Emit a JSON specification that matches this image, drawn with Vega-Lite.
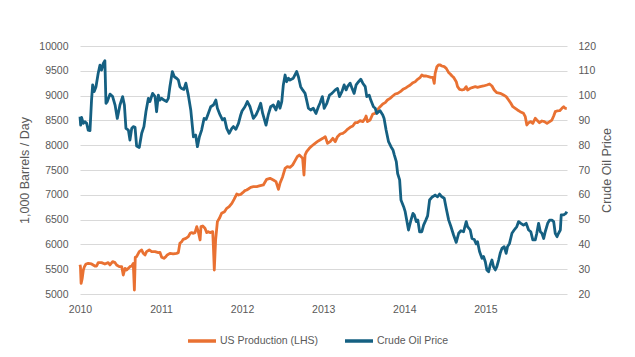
{
"$schema": "https://vega.github.io/schema/vega-lite/v6.json",
"width": 487, "height": 248,
"autosize": {"type": "none"},
"padding": {"left": 80, "top": 46, "right": 68, "bottom": 63},
"background": "white",
"config": {"font": "Liberation Sans", "view": {"stroke": null},
  "axis": {"labelColor": "#595959", "titleColor": "#595959", "labelFontSize": 10.5, "titleFontSize": 12.5, "titleFontWeight": "normal", "ticks": false, "domain": false, "labelFont": "Liberation Sans", "titleFont": "Liberation Sans"},
  "legend": {"labelFont": "Liberation Sans"}},
"datasets": {
"prod": [
{"d":"2010-01-01","v":5590},{"d":"2010-01-03","v":5550},{"d":"2010-01-06","v":5215},{"d":"2010-01-11","v":5316},{"d":"2010-01-16","v":5484},{"d":"2010-01-21","v":5551},{"d":"2010-01-28","v":5605},{"d":"2010-02-07","v":5618},{"d":"2010-02-22","v":5605},{"d":"2010-03-09","v":5565},{"d":"2010-03-17","v":5565},{"d":"2010-03-24","v":5632},{"d":"2010-04-08","v":5632},{"d":"2010-04-23","v":5605},{"d":"2010-05-08","v":5632},{"d":"2010-05-16","v":5585},{"d":"2010-05-28","v":5652},{"d":"2010-06-08","v":5632},{"d":"2010-06-15","v":5585},{"d":"2010-06-27","v":5551},{"d":"2010-07-08","v":5551},{"d":"2010-07-15","v":5383},{"d":"2010-07-23","v":5518},{"d":"2010-07-30","v":5484},{"d":"2010-08-14","v":5551},{"d":"2010-08-22","v":5565},{"d":"2010-08-29","v":5618},{"d":"2010-09-03","v":5081},{"d":"2010-09-07","v":5740},{"d":"2010-09-13","v":5753},{"d":"2010-09-25","v":5854},{"d":"2010-10-06","v":5887},{"d":"2010-10-13","v":5820},{"d":"2010-10-21","v":5787},{"d":"2010-10-28","v":5854},{"d":"2010-11-09","v":5887},{"d":"2010-11-20","v":5854},{"d":"2010-12-05","v":5854},{"d":"2010-12-20","v":5834},{"d":"2010-12-27","v":5840},
{"d":"2011-01-04","v":5740},{"d":"2011-01-14","v":5719},{"d":"2011-01-23","v":5753},{"d":"2011-01-29","v":5787},{"d":"2011-02-10","v":5820},{"d":"2011-02-25","v":5807},{"d":"2011-03-12","v":5820},{"d":"2011-03-20","v":5834},{"d":"2011-03-27","v":6022},{"d":"2011-04-04","v":6055},{"d":"2011-04-11","v":6102},{"d":"2011-04-23","v":6122},{"d":"2011-05-04","v":6156},{"d":"2011-05-12","v":6223},{"d":"2011-05-19","v":6237},{"d":"2011-05-27","v":6223},{"d":"2011-06-03","v":6237},{"d":"2011-06-11","v":6358},{"d":"2011-06-18","v":6257},{"d":"2011-06-26","v":6089},{"d":"2011-06-30","v":6358},{"d":"2011-07-08","v":6371},{"d":"2011-07-18","v":6324},{"d":"2011-07-26","v":6237},{"d":"2011-08-02","v":6257},{"d":"2011-08-10","v":6237},{"d":"2011-08-22","v":6257},{"d":"2011-08-25","v":5955},{"d":"2011-08-29","v":5484},{"d":"2011-09-04","v":6089},{"d":"2011-09-12","v":6459},{"d":"2011-09-21","v":6526},{"d":"2011-10-01","v":6627},{"d":"2011-10-14","v":6660},{"d":"2011-10-24","v":6727},{"d":"2011-11-04","v":6761},{"d":"2011-11-16","v":6828},{"d":"2011-11-26","v":6909},{"d":"2011-12-08","v":7016},{"d":"2011-12-16","v":6996},{"d":"2011-12-26","v":7010},
{"d":"2012-01-04","v":7043},{"d":"2012-01-14","v":7084},{"d":"2012-01-22","v":7097},{"d":"2012-01-29","v":7117},{"d":"2012-02-09","v":7151},{"d":"2012-02-21","v":7164},{"d":"2012-03-07","v":7164},{"d":"2012-03-19","v":7178},{"d":"2012-04-06","v":7198},{"d":"2012-04-21","v":7312},{"d":"2012-05-06","v":7332},{"d":"2012-05-21","v":7298},{"d":"2012-06-02","v":7265},{"d":"2012-06-13","v":7110},{"d":"2012-06-20","v":7231},{"d":"2012-07-02","v":7366},{"d":"2012-07-13","v":7534},{"d":"2012-07-23","v":7567},{"d":"2012-08-04","v":7554},{"d":"2012-08-16","v":7601},{"d":"2012-08-27","v":7688},{"d":"2012-09-06","v":7769},{"d":"2012-09-15","v":7803},{"d":"2012-09-23","v":7769},{"d":"2012-09-30","v":7735},{"d":"2012-10-06","v":7399},{"d":"2012-10-11","v":7803},{"d":"2012-10-18","v":7870},{"d":"2012-10-30","v":7937},{"d":"2012-11-10","v":7984},{"d":"2012-11-25","v":8038},{"d":"2012-12-05","v":8071},{"d":"2012-12-17","v":8105},{"d":"2012-12-30","v":8139},
{"d":"2013-01-10","v":8172},{"d":"2013-01-20","v":8038},{"d":"2013-02-01","v":8071},{"d":"2013-02-13","v":8139},{"d":"2013-02-24","v":8071},{"d":"2013-03-06","v":8172},{"d":"2013-03-18","v":8226},{"d":"2013-03-30","v":8239},{"d":"2013-04-10","v":8273},{"d":"2013-04-20","v":8320},{"d":"2013-05-02","v":8360},{"d":"2013-05-14","v":8387},{"d":"2013-05-25","v":8454},{"d":"2013-06-04","v":8454},{"d":"2013-06-16","v":8495},{"d":"2013-06-28","v":8475},{"d":"2013-07-09","v":8542},{"d":"2013-07-13","v":8589},{"d":"2013-07-19","v":8475},{"d":"2013-07-31","v":8508},{"d":"2013-08-12","v":8629},{"d":"2013-08-23","v":8643},{"d":"2013-09-02","v":8710},{"d":"2013-09-14","v":8777},{"d":"2013-09-26","v":8831},{"d":"2013-10-07","v":8858},{"d":"2013-10-17","v":8911},{"d":"2013-10-29","v":8945},{"d":"2013-11-10","v":8992},{"d":"2013-11-21","v":9032},{"d":"2013-12-02","v":9046},{"d":"2013-12-14","v":9079},{"d":"2013-12-26","v":9126},
{"d":"2014-01-05","v":9147},{"d":"2014-01-16","v":9180},{"d":"2014-01-28","v":9214},{"d":"2014-02-09","v":9261},{"d":"2014-02-19","v":9281},{"d":"2014-03-02","v":9328},{"d":"2014-03-14","v":9368},{"d":"2014-03-21","v":9415},{"d":"2014-03-29","v":9395},{"d":"2014-04-10","v":9395},{"d":"2014-04-20","v":9382},{"d":"2014-05-01","v":9368},{"d":"2014-05-10","v":9368},{"d":"2014-05-16","v":9247},{"d":"2014-05-20","v":9449},{"d":"2014-05-28","v":9583},{"d":"2014-06-04","v":9617},{"d":"2014-06-12","v":9617},{"d":"2014-06-19","v":9597},{"d":"2014-06-30","v":9583},{"d":"2014-07-09","v":9550},{"d":"2014-07-20","v":9462},{"d":"2014-07-27","v":9436},{"d":"2014-08-04","v":9395},{"d":"2014-08-11","v":9368},{"d":"2014-08-23","v":9281},{"d":"2014-08-29","v":9180},{"d":"2014-09-07","v":9126},{"d":"2014-09-18","v":9113},{"d":"2014-09-28","v":9126},{"d":"2014-10-07","v":9180},{"d":"2014-10-13","v":9113},{"d":"2014-10-25","v":9147},{"d":"2014-11-06","v":9167},{"d":"2014-11-17","v":9180},{"d":"2014-11-27","v":9167},{"d":"2014-12-09","v":9180},{"d":"2014-12-24","v":9194},
{"d":"2015-01-08","v":9214},{"d":"2015-01-20","v":9234},{"d":"2015-01-31","v":9194},{"d":"2015-02-10","v":9113},{"d":"2015-02-22","v":9059},{"d":"2015-03-09","v":9046},{"d":"2015-03-24","v":9012},{"d":"2015-04-05","v":8979},{"d":"2015-04-16","v":8911},{"d":"2015-04-26","v":8844},{"d":"2015-05-05","v":8777},{"d":"2015-05-16","v":8743},{"d":"2015-05-26","v":8710},{"d":"2015-06-07","v":8676},{"d":"2015-06-22","v":8643},{"d":"2015-06-30","v":8575},{"d":"2015-07-07","v":8407},{"d":"2015-07-15","v":8454},{"d":"2015-07-25","v":8475},{"d":"2015-08-03","v":8441},{"d":"2015-08-14","v":8542},{"d":"2015-08-21","v":8508},{"d":"2015-09-02","v":8454},{"d":"2015-09-13","v":8488},{"d":"2015-09-24","v":8475},{"d":"2015-10-06","v":8441},{"d":"2015-10-18","v":8475},{"d":"2015-10-28","v":8508},{"d":"2015-11-05","v":8589},{"d":"2015-11-12","v":8676},{"d":"2015-11-20","v":8690},{"d":"2015-12-02","v":8696},{"d":"2015-12-12","v":8743},{"d":"2015-12-20","v":8777},{"d":"2015-12-27","v":8743},{"d":"2016-01-03","v":8743}
],
"price": [
{"d":"2010-01-01","v":91.5},{"d":"2010-01-04","v":88.1},{"d":"2010-01-08","v":91.2},{"d":"2010-01-16","v":88.8},{"d":"2010-01-23","v":89.5},{"d":"2010-01-31","v":88.8},{"d":"2010-02-07","v":86.1},{"d":"2010-02-15","v":85.9},{"d":"2010-02-22","v":98.2},{"d":"2010-02-27","v":104.3},{"d":"2010-03-06","v":101.6},{"d":"2010-03-14","v":103.6},{"d":"2010-03-24","v":109.0},{"d":"2010-04-01","v":112.3},{"d":"2010-04-08","v":110.3},{"d":"2010-04-16","v":113.0},{"d":"2010-04-23","v":114.1},{"d":"2010-04-28","v":96.9},{"d":"2010-05-04","v":97.6},{"d":"2010-05-16","v":100.6},{"d":"2010-05-28","v":99.6},{"d":"2010-06-08","v":96.2},{"d":"2010-06-18","v":90.8},{"d":"2010-06-30","v":96.2},{"d":"2010-07-12","v":99.6},{"d":"2010-07-20","v":96.2},{"d":"2010-07-27","v":86.8},{"d":"2010-08-07","v":86.1},{"d":"2010-08-14","v":82.1},{"d":"2010-08-22","v":86.8},{"d":"2010-08-29","v":87.5},{"d":"2010-09-06","v":87.2},{"d":"2010-09-13","v":79.7},{"d":"2010-09-25","v":79.1},{"d":"2010-10-06","v":84.8},{"d":"2010-10-16","v":87.5},{"d":"2010-10-25","v":93.5},{"d":"2010-11-05","v":98.9},{"d":"2010-11-12","v":97.6},{"d":"2010-11-24","v":100.9},{"d":"2010-12-05","v":99.6},{"d":"2010-12-12","v":93.5},{"d":"2010-12-20","v":100.2},{"d":"2010-12-27","v":98.2},
{"d":"2011-01-04","v":98.9},{"d":"2011-01-14","v":98.2},{"d":"2011-01-26","v":97.6},{"d":"2011-02-03","v":98.9},{"d":"2011-02-10","v":103.6},{"d":"2011-02-21","v":109.7},{"d":"2011-03-02","v":107.6},{"d":"2011-03-12","v":107.0},{"d":"2011-03-20","v":106.3},{"d":"2011-03-27","v":103.6},{"d":"2011-04-04","v":102.9},{"d":"2011-04-14","v":102.5},{"d":"2011-04-23","v":105.0},{"d":"2011-05-04","v":100.2},{"d":"2011-05-15","v":94.2},{"d":"2011-05-27","v":83.4},{"d":"2011-06-06","v":84.1},{"d":"2011-06-14","v":79.4},{"d":"2011-06-23","v":83.4},{"d":"2011-07-03","v":86.1},{"d":"2011-07-14","v":90.8},{"d":"2011-07-23","v":90.4},{"d":"2011-08-02","v":92.8},{"d":"2011-08-13","v":95.5},{"d":"2011-08-25","v":96.2},{"d":"2011-09-05","v":98.2},{"d":"2011-09-12","v":94.9},{"d":"2011-09-24","v":92.2},{"d":"2011-10-05","v":90.2},{"d":"2011-10-14","v":90.8},{"d":"2011-10-24","v":86.8},{"d":"2011-11-04","v":84.8},{"d":"2011-11-16","v":86.8},{"d":"2011-11-23","v":87.5},{"d":"2011-12-04","v":86.4},{"d":"2011-12-16","v":88.8},{"d":"2011-12-26","v":92.2},
{"d":"2012-01-01","v":93.8},{"d":"2012-01-14","v":95.5},{"d":"2012-01-25","v":97.6},{"d":"2012-02-06","v":95.5},{"d":"2012-02-21","v":90.8},{"d":"2012-03-04","v":92.2},{"d":"2012-03-14","v":94.2},{"d":"2012-03-25","v":96.9},{"d":"2012-04-03","v":92.8},{"d":"2012-04-18","v":88.1},{"d":"2012-04-28","v":92.2},{"d":"2012-05-09","v":95.5},{"d":"2012-05-21","v":96.2},{"d":"2012-06-02","v":94.2},{"d":"2012-06-13","v":97.6},{"d":"2012-06-20","v":94.9},{"d":"2012-06-28","v":97.6},{"d":"2012-07-05","v":104.3},{"d":"2012-07-13","v":108.3},{"d":"2012-07-20","v":105.6},{"d":"2012-07-28","v":107.0},{"d":"2012-08-04","v":106.3},{"d":"2012-08-19","v":107.0},{"d":"2012-09-03","v":109.7},{"d":"2012-09-11","v":107.6},{"d":"2012-09-21","v":103.6},{"d":"2012-09-30","v":102.3},{"d":"2012-10-11","v":100.9},{"d":"2012-10-18","v":98.2},{"d":"2012-10-26","v":94.9},{"d":"2012-11-05","v":94.2},{"d":"2012-11-17","v":94.9},{"d":"2012-11-29","v":92.8},{"d":"2012-12-10","v":95.5},{"d":"2012-12-17","v":96.9},{"d":"2012-12-28","v":99.6},
{"d":"2013-01-05","v":94.9},{"d":"2013-01-17","v":96.9},{"d":"2013-01-29","v":100.2},{"d":"2013-02-09","v":100.9},{"d":"2013-02-24","v":102.3},{"d":"2013-03-06","v":102.9},{"d":"2013-03-15","v":99.6},{"d":"2013-03-26","v":101.6},{"d":"2013-04-05","v":104.3},{"d":"2013-04-14","v":102.3},{"d":"2013-04-20","v":103.6},{"d":"2013-05-02","v":105.0},{"d":"2013-05-11","v":102.9},{"d":"2013-05-20","v":100.9},{"d":"2013-05-29","v":104.3},{"d":"2013-06-09","v":105.6},{"d":"2013-06-19","v":106.6},{"d":"2013-06-28","v":105.0},{"d":"2013-07-09","v":103.6},{"d":"2013-07-16","v":99.6},{"d":"2013-07-27","v":100.2},{"d":"2013-08-03","v":98.2},{"d":"2013-08-15","v":95.5},{"d":"2013-08-23","v":94.9},{"d":"2013-08-30","v":92.8},{"d":"2013-09-07","v":93.5},{"d":"2013-09-14","v":93.9},{"d":"2013-09-26","v":92.2},{"d":"2013-10-02","v":90.8},{"d":"2013-10-11","v":86.1},{"d":"2013-10-22","v":81.4},{"d":"2013-11-02","v":79.4},{"d":"2013-11-11","v":78.1},{"d":"2013-11-17","v":76.1},{"d":"2013-11-26","v":73.4},{"d":"2013-12-02","v":68.6},{"d":"2013-12-11","v":66.0},{"d":"2013-12-17","v":57.9},{"d":"2013-12-29","v":55.2},
{"d":"2014-01-05","v":53.2},{"d":"2014-01-13","v":49.2},{"d":"2014-01-20","v":45.8},{"d":"2014-01-31","v":49.8},{"d":"2014-02-09","v":52.5},{"d":"2014-02-15","v":51.9},{"d":"2014-02-24","v":49.2},{"d":"2014-03-03","v":49.8},{"d":"2014-03-11","v":45.1},{"d":"2014-03-21","v":45.1},{"d":"2014-03-29","v":47.8},{"d":"2014-04-08","v":49.8},{"d":"2014-04-16","v":51.5},{"d":"2014-04-25","v":57.9},{"d":"2014-05-05","v":59.0},{"d":"2014-05-20","v":59.9},{"d":"2014-05-31","v":59.2},{"d":"2014-06-09","v":60.3},{"d":"2014-06-19","v":59.2},{"d":"2014-06-30","v":58.6},{"d":"2014-07-09","v":54.5},{"d":"2014-07-20","v":49.8},{"d":"2014-07-30","v":47.2},{"d":"2014-08-11","v":43.8},{"d":"2014-08-23","v":40.8},{"d":"2014-09-03","v":44.5},{"d":"2014-09-13","v":45.5},{"d":"2014-09-25","v":45.1},{"d":"2014-10-07","v":49.2},{"d":"2014-10-13","v":47.2},{"d":"2014-10-25","v":45.8},{"d":"2014-11-02","v":42.4},{"d":"2014-11-12","v":42.0},{"d":"2014-11-21","v":40.2},{"d":"2014-11-27","v":41.1},{"d":"2014-12-06","v":37.1},{"d":"2014-12-17","v":34.4},{"d":"2014-12-24","v":35.1},
{"d":"2015-01-01","v":33.0},{"d":"2015-01-08","v":29.7},{"d":"2015-01-16","v":29.0},{"d":"2015-01-23","v":31.7},{"d":"2015-01-31","v":33.7},{"d":"2015-02-07","v":31.0},{"d":"2015-02-15","v":29.7},{"d":"2015-02-22","v":31.0},{"d":"2015-03-02","v":33.7},{"d":"2015-03-09","v":36.4},{"d":"2015-03-17","v":38.4},{"d":"2015-03-27","v":39.1},{"d":"2015-04-05","v":36.4},{"d":"2015-04-11","v":39.1},{"d":"2015-04-20","v":40.4},{"d":"2015-05-01","v":44.5},{"d":"2015-05-11","v":45.8},{"d":"2015-05-23","v":47.2},{"d":"2015-05-31","v":49.2},{"d":"2015-06-10","v":48.5},{"d":"2015-06-22","v":47.8},{"d":"2015-07-04","v":48.5},{"d":"2015-07-15","v":45.8},{"d":"2015-07-25","v":45.1},{"d":"2015-08-03","v":41.8},{"d":"2015-08-14","v":41.8},{"d":"2015-08-21","v":44.5},{"d":"2015-08-29","v":48.5},{"d":"2015-09-06","v":45.1},{"d":"2015-09-13","v":44.5},{"d":"2015-09-21","v":42.4},{"d":"2015-09-28","v":45.1},{"d":"2015-10-09","v":48.5},{"d":"2015-10-18","v":49.8},{"d":"2015-10-28","v":49.8},{"d":"2015-11-05","v":49.2},{"d":"2015-11-12","v":44.5},{"d":"2015-11-20","v":43.1},{"d":"2015-11-27","v":44.5},{"d":"2015-12-05","v":45.8},{"d":"2015-12-09","v":51.9},{"d":"2015-12-20","v":51.9},{"d":"2015-12-30","v":52.5},{"d":"2016-01-03","v":53.2}
]
},
"layer": [
{"data": {"name": "prod"},
 "mark": {"type": "line", "strokeWidth": 2.8, "strokeJoin": "round"},
 "encoding": {
  "x": {"field": "d", "type": "temporal", "scale": {"domain": ["2010-01-01", "2016-01-04"]},
        "axis": {"values": [{"year": 2010}, {"year": 2011}, {"year": 2012}, {"year": 2013}, {"year": 2014}, {"year": 2015}], "format": "%Y", "grid": false, "title": null, "labelPadding": 10, "labelFlush": false}},
  "y": {"field": "v", "type": "quantitative", "scale": {"domain": [5000, 10000], "nice": false},
        "axis": {"values": [5000, 5500, 6000, 6500, 7000, 7500, 8000, 8500, 9000, 9500, 10000], "format": "d", "grid": true, "gridColor": "#D9D9D9", "title": "1,000 Barrels / Day", "labelPadding": 12, "titlePadding": 7}},
  "color": {"datum": "US Production (LHS)", "type": "nominal",
        "scale": {"domain": ["US Production (LHS)", "Crude Oil Price"], "range": ["#E97132", "#156082"]},
        "legend": {"orient": "none", "legendX": 106, "legendY": 279, "direction": "horizontal", "title": null, "symbolType": "stroke", "symbolSize": 784, "symbolStrokeWidth": 3.5, "labelFontSize": 10.5, "labelColor": "#595959", "columnPadding": 19, "labelOffset": 2}}
 }},
{"data": {"name": "price"},
 "mark": {"type": "line", "strokeWidth": 2.8, "strokeJoin": "round"},
 "encoding": {
  "x": {"field": "d", "type": "temporal"},
  "y": {"field": "v", "type": "quantitative", "scale": {"domain": [20, 120], "nice": false},
        "axis": {"orient": "right", "values": [20, 30, 40, 50, 60, 70, 80, 90, 100, 110, 120], "grid": false, "title": "Crude Oil Price", "titleAngle": 270, "labelPadding": 11, "titlePadding": 18}},
  "color": {"datum": "Crude Oil Price", "type": "nominal"}
 }}
],
"resolve": {"scale": {"y": "independent"}}
}
